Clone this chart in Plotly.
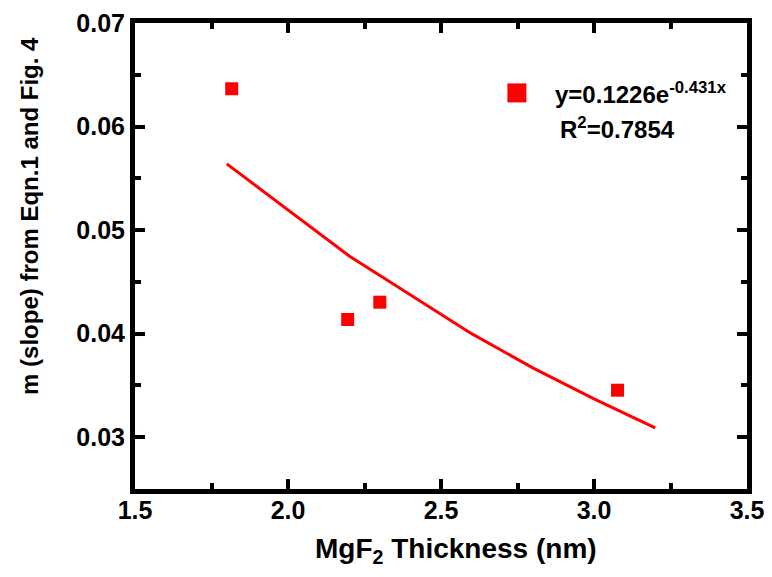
import plotly.graph_objects as go

# Measured data points
thickness = [1.816, 2.195, 2.30, 3.077]
slope_m = [0.06365, 0.04137, 0.04304, 0.03454]

# Fitted curve as drawn
fit_x = [1.8, 2.2, 2.6, 2.8, 3.0, 3.2]
fit_y = [0.0564, 0.0475, 0.0400, 0.0367, 0.0337, 0.0309]

x_ticks = [1.5, 2.0, 2.5, 3.0, 3.5]
x_tick_labels = ["1.5", "2.0", "2.5", "3.0", "3.5"]
y_ticks = [0.03, 0.04, 0.05, 0.06, 0.07]
y_tick_labels = ["0.03", "0.04", "0.05", "0.06", "0.07"]

fit_eq = "y=0.1226e<sup>-0.431x</sup>"
fit_r2 = "R<sup>2</sup>=0.7854"

RED = "#ff0000"
FONT = "Liberation Sans, Arial, sans-serif"

fig = go.Figure()
fig.add_trace(go.Scatter(x=fit_x, y=fit_y, mode="lines",
                         line=dict(color=RED, width=3), showlegend=False))
fig.add_trace(go.Scatter(x=thickness, y=slope_m, mode="markers",
                         marker=dict(symbol="square", size=13, color=RED,
                                     line=dict(width=0)),
                         showlegend=False))

axis_common = dict(
    showline=True, linecolor="black", linewidth=5, mirror="ticks",
    ticks="inside", ticklen=10, tickwidth=4, tickcolor="black",
    showgrid=False, zeroline=False, automargin=False,
    tickfont=dict(family=FONT, size=25, color="black", weight="bold"),
)

# The page body adds an 8px offset, so the figure is sized to compensate.
fig.update_layout(
    template="none",
    width=764, height=569,
    margin=dict(l=127, r=25, t=15, b=88),
    paper_bgcolor="white", plot_bgcolor="white",
    xaxis=dict(range=[1.5, 3.5], tickvals=x_ticks, ticktext=x_tick_labels,
               minor=dict(ticks="inside", ticklen=6, tickwidth=4,
                          tickcolor="black", dtick=0.25, tick0=1.5),
               ticklabelstandoff=-5, ticklabeloverflow="allow",
               **axis_common),
    yaxis=dict(range=[0.025, 0.07], tickvals=y_ticks, ticktext=y_tick_labels,
               minor=dict(ticks="inside", ticklen=6, tickwidth=4,
                          tickcolor="black", dtick=0.005, tick0=0.025),
               ticklabeloverflow="allow",
               **axis_common),
    showlegend=False,
)

# Axis titles
fig.add_annotation(text="MgF<sub>2</sub> Thickness (nm)", xref="paper", yref="paper",
                   x=0.5245, y=-0.133, xanchor="center", yanchor="middle",
                   showarrow=False,
                   font=dict(family=FONT, size=28, color="black", weight="bold"))
fig.add_annotation(text="m (slope) from Eqn.1 and Fig. 4", xref="paper", yref="paper",
                   x=-0.1716, y=0.586, xanchor="center", yanchor="middle",
                   textangle=-90, showarrow=False,
                   font=dict(family=FONT, size=24, color="black", weight="bold"))

# Legend key and fit text
fig.add_shape(type="rect", xref="paper", yref="paper",
              x0=0.624 - 0.0155, x1=0.624 + 0.0155,
              y0=0.850 - 0.0204, y1=0.850 + 0.0204,
              fillcolor=RED, line=dict(width=0))
fig.add_annotation(text=fit_eq, xref="paper", yref="paper", x=0.683, y=0.850,
                   xanchor="left", yanchor="middle", showarrow=False,
                   font=dict(family=FONT, size=24, color="black", weight="bold"))
fig.add_annotation(text=fit_r2, xref="paper", yref="paper", x=0.691, y=0.775,
                   xanchor="left", yanchor="middle", showarrow=False,
                   font=dict(family=FONT, size=24, color="black", weight="bold"))

fig.write_html("out.html")
